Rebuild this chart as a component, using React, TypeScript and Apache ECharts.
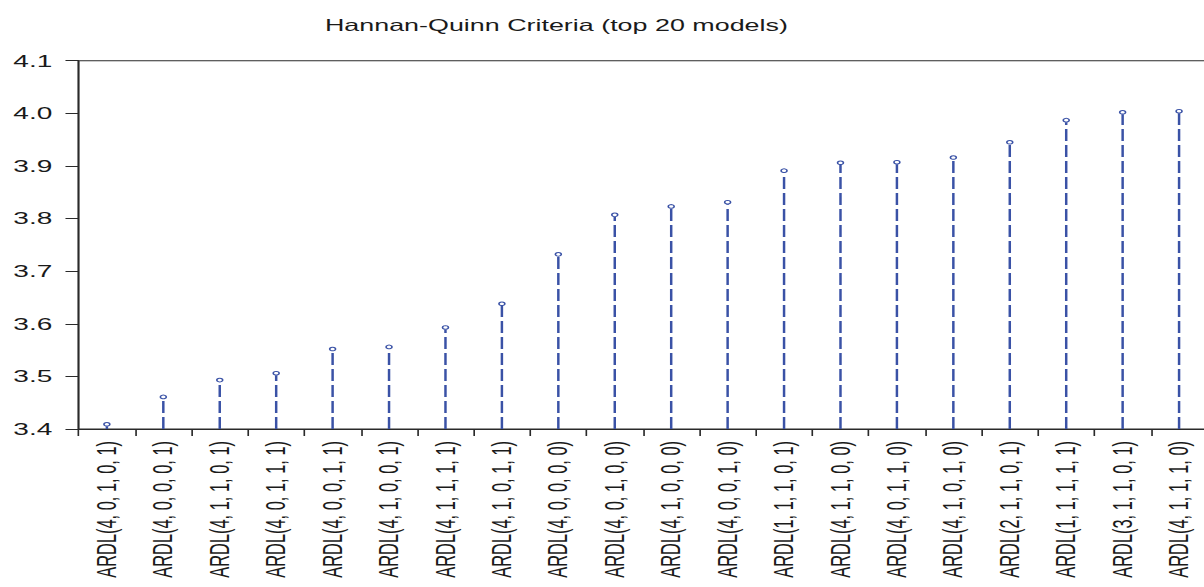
import React, { useEffect, useRef } from "react";
import * as echarts from "echarts";

const TITLE = "Hannan-Quinn Criteria (top 20 models)";

const models: string[] = [
  "ARDL(4, 0, 1, 0, 1)",
  "ARDL(4, 0, 0, 0, 1)",
  "ARDL(4, 1, 1, 0, 1)",
  "ARDL(4, 0, 1, 1, 1)",
  "ARDL(4, 0, 0, 1, 1)",
  "ARDL(4, 1, 0, 0, 1)",
  "ARDL(4, 1, 1, 1, 1)",
  "ARDL(4, 1, 0, 1, 1)",
  "ARDL(4, 0, 0, 0, 0)",
  "ARDL(4, 0, 1, 0, 0)",
  "ARDL(4, 1, 0, 0, 0)",
  "ARDL(4, 0, 0, 1, 0)",
  "ARDL(1, 1, 1, 0, 1)",
  "ARDL(4, 1, 1, 0, 0)",
  "ARDL(4, 0, 1, 1, 0)",
  "ARDL(4, 1, 0, 1, 0)",
  "ARDL(2, 1, 1, 0, 1)",
  "ARDL(1, 1, 1, 1, 1)",
  "ARDL(3, 1, 1, 0, 1)",
  "ARDL(4, 1, 1, 1, 0)",
];

const hqValues: number[] = [
  3.409, 3.461, 3.493, 3.506, 3.552, 3.556, 3.593, 3.638, 3.732, 3.807,
  3.823, 3.831, 3.891, 3.906, 3.907, 3.916, 3.945, 3.987, 4.002, 4.004,
];

const Y_MIN = 3.4;
const Y_MAX = 4.1;
const Y_STEP = 0.1;

// The reference is horizontally stretched; the chart is drawn narrower and scaled in X.
const SCALE_X = 1.6493;
const BASE_W = 730;
const BASE_H = 587;

const STEM_COLOR = "#3a52a6";
const FONT = "'Liberation Sans', Arial, Helvetica, sans-serif";

export default function App() {
  const ref = useRef<HTMLDivElement>(null);

  useEffect(() => {
    if (!ref.current) return;
    const chart = echarts.init(ref.current, undefined, { renderer: "svg" });
    chart.setOption({
      animation: false,
      backgroundColor: "#ffffff",
      title: {
        text: TITLE,
        left: 197,
        top: 17,
        padding: 0,
        textStyle: {
          fontFamily: FONT,
          fontSize: 16.3,
          fontWeight: "normal",
          color: "#1a1a1a",
        },
      },
      grid: {
        left: 47.7,
        right: -2,
        top: 60.7,
        bottom: 158,
        show: true,
        borderColor: "#2a2a2a",
        borderWidth: 1,
        containLabel: false,
        outerBoundsMode: "none",
      },
      xAxis: {
        type: "category",
        data: models,
        boundaryGap: true,
        axisLine: { show: true, lineStyle: { color: "#2a2a2a", width: 1 } },
        axisTick: {
          show: true,
          inside: false,
          length: 7,
          interval: 0,
          alignWithLabel: false,
          lineStyle: { color: "#2a2a2a", width: 1 },
        },
        axisLabel: {
          interval: 0,
          rotate: 90,
          margin: 12,
          hideOverlap: false,
          fontFamily: FONT,
          fontSize: 16.4,
          color: "#1a1a1a",
        },
        splitLine: { show: false },
      },
      yAxis: {
        type: "value",
        min: Y_MIN,
        max: Y_MAX,
        interval: Y_STEP,
        axisLine: { show: true, lineStyle: { color: "#2a2a2a", width: 1 } },
        axisTick: {
          show: true,
          inside: false,
          length: 8,
          lineStyle: { color: "#2a2a2a", width: 1 },
        },
        axisLabel: {
          margin: 16,
          fontFamily: FONT,
          fontSize: 17,
          color: "#1a1a1a",
          formatter: (v: number) => v.toFixed(1),
        },
        splitLine: { show: false },
      },
      series: [
        {
          type: "custom",
          name: "HQ",
          data: hqValues.map((v, i) => [i, v]),
          encode: { x: 0, y: 1 },
          renderItem: (params: any, api: any) => {
            const idx = api.value(0);
            const val = api.value(1);
            const top = api.coord([idx, val]);
            const base = api.coord([idx, Y_MIN]);
            return {
              type: "group",
              children: [
                {
                  type: "line",
                  shape: { x1: top[0], y1: base[1], x2: top[0], y2: top[1] + 2 },
                  style: { stroke: STEM_COLOR, lineWidth: 1.5, lineDash: [12, 4] },
                },
                {
                  type: "circle",
                  shape: { cx: top[0], cy: top[1], r: 1.8 },
                  style: { fill: "#ffffff", stroke: STEM_COLOR, lineWidth: 1 },
                },
              ],
            };
          },
        },
      ],
    });
    return () => chart.dispose();
  }, []);

  return (
    <div
      style={{
        position: "fixed",
        left: 0,
        top: 0,
        width: 1204,
        height: 587,
        overflow: "hidden",
        background: "#ffffff",
      }}
    >
      <div
        ref={ref}
        style={{
          position: "absolute",
          left: 0,
          top: 0,
          width: BASE_W,
          height: BASE_H,
          transformOrigin: "0 0",
          transform: `scaleX(${SCALE_X})`,
        }}
      />
    </div>
  );
}
